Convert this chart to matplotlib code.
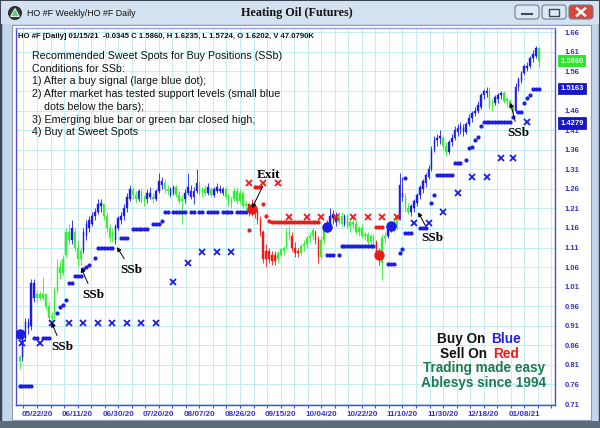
import matplotlib
matplotlib.use("Agg")
import matplotlib.pyplot as plt
from matplotlib.patches import Rectangle, FancyBboxPatch, Circle, Polygon

# ---------------- data ----------------
date_labels = ["05/22/20", "06/11/20", "06/30/20", "07/20/20", "08/07/20", "08/26/20",
               "09/15/20", "10/04/20", "10/22/20", "11/10/20", "11/30/20", "12/18/20", "01/08/21"]
date_label_pos = [6, 20, 34, 48, 62, 76, 90, 104, 118, 132, 146, 160, 174]

opens = [
    0.82, 0.83, 0.88, 0.92, 0.91, 1.02, 0.98, 0.99, 0.98, 0.99,
    0.96, 0.93, 0.94, 1.00, 1.06, 1.045, 1.09, 1.15, 1.13, 1.15,
    1.11, 1.08, 1.10, 1.14, 1.16, 1.17, 1.19, 1.20, 1.215, 1.22,
    1.19, 1.16, 1.14, 1.13, 1.16, 1.18, 1.19, 1.21, 1.235, 1.26,
    1.245, 1.235, 1.255, 1.23, 1.235, 1.25, 1.24, 1.235, 1.255, 1.28,
    1.275, 1.26, 1.245, 1.25, 1.265, 1.245, 1.23, 1.235, 1.25, 1.255,
    1.24, 1.255, 1.27, 1.25, 1.26, 1.25, 1.26, 1.245, 1.255, 1.26,
    1.25, 1.26, 1.24, 1.225, 1.235, 1.255, 1.23, 1.25, 1.215, 1.22,
    1.21, 1.215, 1.20, 1.18, 1.15, 1.08, 1.10, 1.09, 1.075, 1.08,
    1.09, 1.10, 1.11, 1.15, 1.14, 1.11, 1.095, 1.095, 1.115, 1.12,
    1.135, 1.14, 1.15, 1.13, 1.085, 1.13, 1.16, 1.17, 1.185, 1.19,
    1.175, 1.19, 1.17, 1.19, 1.165, 1.175, 1.17, 1.15, 1.16, 1.14,
    1.145, 1.125, 1.14, 1.125, 1.095, 1.07, 1.135, 1.14, 1.16, 1.165,
    1.16, 1.185, 1.25, 1.24, 1.21, 1.20, 1.21, 1.225, 1.245, 1.26,
    1.275, 1.29, 1.31, 1.36, 1.385, 1.39, 1.39, 1.37, 1.355, 1.38,
    1.39, 1.405, 1.41, 1.415, 1.405, 1.425, 1.44, 1.455, 1.46, 1.47,
    1.50, 1.505, 1.51, 1.475, 1.48, 1.49, 1.50, 1.505, 1.485, 1.485,
    1.47, 1.46, 1.52, 1.535, 1.555, 1.57, 1.575, 1.595, 1.60, 1.6202]

highs = [
    0.835, 0.89, 0.93, 0.93, 1.03, 1.03, 1.00, 1.00, 1.035, 0.995,
    0.97, 0.945, 1.01, 1.08, 1.075, 1.09, 1.16, 1.17, 1.18, 1.16,
    1.13, 1.11, 1.16, 1.18, 1.19, 1.20, 1.21, 1.235, 1.235, 1.225,
    1.20, 1.17, 1.16, 1.17, 1.19, 1.20, 1.22, 1.25, 1.27, 1.265,
    1.255, 1.26, 1.26, 1.245, 1.26, 1.265, 1.25, 1.26, 1.30, 1.29,
    1.285, 1.27, 1.265, 1.27, 1.27, 1.255, 1.245, 1.26, 1.30, 1.27,
    1.265, 1.31, 1.28, 1.265, 1.27, 1.275, 1.265, 1.265, 1.275, 1.27,
    1.265, 1.265, 1.25, 1.24, 1.265, 1.265, 1.26, 1.255, 1.23, 1.225,
    1.235, 1.225, 1.21, 1.19, 1.155, 1.12, 1.11, 1.10, 1.10, 1.10,
    1.11, 1.115, 1.16, 1.165, 1.15, 1.125, 1.11, 1.12, 1.13, 1.14,
    1.15, 1.16, 1.155, 1.14, 1.14, 1.165, 1.18, 1.21, 1.205, 1.20,
    1.20, 1.20, 1.195, 1.195, 1.18, 1.19, 1.18, 1.165, 1.17, 1.15,
    1.15, 1.145, 1.145, 1.13, 1.11, 1.145, 1.15, 1.17, 1.175, 1.185,
    1.19, 1.30, 1.29, 1.25, 1.225, 1.22, 1.235, 1.25, 1.27, 1.285,
    1.30, 1.32, 1.37, 1.395, 1.40, 1.41, 1.395, 1.38, 1.385, 1.40,
    1.42, 1.425, 1.43, 1.425, 1.43, 1.45, 1.46, 1.47, 1.485, 1.505,
    1.515, 1.52, 1.52, 1.49, 1.50, 1.505, 1.51, 1.51, 1.495, 1.49,
    1.48, 1.53, 1.545, 1.56, 1.58, 1.585, 1.60, 1.615, 1.625, 1.6235]

lows = [
    0.80, 0.82, 0.87, 0.89, 0.90, 0.97, 0.97, 0.975, 0.975, 0.95,
    0.92, 0.91, 0.93, 0.995, 1.03, 1.04, 1.085, 1.12, 1.12, 1.10,
    1.06, 1.065, 1.095, 1.13, 1.15, 1.165, 1.18, 1.195, 1.20, 1.18,
    1.15, 1.125, 1.125, 1.12, 1.155, 1.17, 1.18, 1.20, 1.23, 1.235,
    1.225, 1.23, 1.225, 1.215, 1.225, 1.235, 1.225, 1.23, 1.25, 1.26,
    1.25, 1.245, 1.24, 1.245, 1.24, 1.22, 1.17, 1.225, 1.245, 1.235,
    1.22, 1.25, 1.245, 1.24, 1.245, 1.245, 1.24, 1.24, 1.25, 1.25,
    1.245, 1.235, 1.215, 1.21, 1.23, 1.22, 1.22, 1.21, 1.205, 1.19,
    1.19, 1.185, 1.17, 1.14, 1.07, 1.06, 1.07, 1.065, 1.065, 1.07,
    1.085, 1.09, 1.105, 1.13, 1.10, 1.085, 1.085, 1.09, 1.10, 1.11,
    1.125, 1.13, 1.12, 1.07, 1.08, 1.12, 1.15, 1.165, 1.17, 1.165,
    1.17, 1.165, 1.165, 1.16, 1.15, 1.16, 1.145, 1.14, 1.135, 1.13,
    1.12, 1.115, 1.12, 1.09, 1.065, 1.028, 1.12, 1.135, 1.15, 1.15,
    1.155, 1.18, 1.23, 1.20, 1.195, 1.19, 1.20, 1.215, 1.235, 1.25,
    1.265, 1.285, 1.305, 1.355, 1.37, 1.375, 1.36, 1.345, 1.35, 1.37,
    1.385, 1.395, 1.40, 1.395, 1.40, 1.42, 1.43, 1.445, 1.455, 1.465,
    1.49, 1.495, 1.465, 1.46, 1.475, 1.48, 1.49, 1.48, 1.47, 1.465,
    1.455, 1.455, 1.51, 1.53, 1.55, 1.56, 1.57, 1.585, 1.595, 1.5724]

closes = [
    0.83, 0.88, 0.92, 0.905, 1.02, 0.98, 0.99, 0.98, 0.99, 0.96,
    0.93, 0.935, 1.00, 1.06, 1.045, 1.08, 1.15, 1.13, 1.16, 1.11,
    1.08, 1.10, 1.15, 1.17, 1.18, 1.19, 1.20, 1.22, 1.225, 1.19,
    1.16, 1.135, 1.15, 1.165, 1.185, 1.19, 1.21, 1.24, 1.26, 1.245,
    1.235, 1.255, 1.23, 1.24, 1.25, 1.24, 1.235, 1.255, 1.28, 1.27,
    1.26, 1.255, 1.26, 1.265, 1.245, 1.23, 1.235, 1.25, 1.265, 1.24,
    1.255, 1.275, 1.25, 1.26, 1.25, 1.265, 1.245, 1.26, 1.265, 1.255,
    1.26, 1.24, 1.225, 1.235, 1.255, 1.23, 1.25, 1.215, 1.22, 1.20,
    1.215, 1.195, 1.18, 1.15, 1.08, 1.10, 1.08, 1.075, 1.09, 1.095,
    1.105, 1.11, 1.15, 1.14, 1.11, 1.095, 1.10, 1.115, 1.12, 1.135,
    1.14, 1.155, 1.13, 1.085, 1.13, 1.16, 1.17, 1.19, 1.195, 1.175,
    1.19, 1.17, 1.19, 1.165, 1.175, 1.17, 1.15, 1.16, 1.14, 1.145,
    1.125, 1.14, 1.125, 1.095, 1.08, 1.135, 1.14, 1.165, 1.165, 1.16,
    1.185, 1.27, 1.24, 1.21, 1.20, 1.215, 1.23, 1.245, 1.265, 1.28,
    1.295, 1.31, 1.36, 1.385, 1.39, 1.395, 1.37, 1.355, 1.38, 1.39,
    1.41, 1.415, 1.42, 1.405, 1.425, 1.44, 1.455, 1.46, 1.475, 1.50,
    1.51, 1.51, 1.47, 1.48, 1.495, 1.50, 1.505, 1.485, 1.49, 1.47,
    1.46, 1.52, 1.54, 1.555, 1.575, 1.575, 1.595, 1.605, 1.62, 1.586]

bar_colors = ("gbbbbbgggg" "ggggggggbg" "ggbbbbbbbg" "gggbbbbbbg" "gbggbbgbbb"
              "ggbbgggbbb" "bbgggbgbbb" "bggggggggr" "rrrrrrrrrg" "ggggrrrggg"
              "ggrrggbbbb" "ggbggggggg" "gggrrggbbg" "gbbggbbbbb" "bbbbbbggbb"
              "bbbbbbbbbb" "bbggbbbggg" "gbbbbbbbbg")

# small blue support dots
sup_idx = [0, 1, 2, 3, 4, 5, 6, 8, 9, 10, 13, 14, 15, 16, 17, 18, 19, 20, 21, 22, 23, 24, 26,
           27, 28, 29, 30, 31, 32, 35, 36, 37, 39, 40, 41, 42, 43, 44, 46, 47, 48, 49,
           50, 51, 53, 54, 55, 56, 57, 59, 60, 62, 63, 65, 66, 67, 68, 70, 71, 72, 73, 75, 76, 77, 78,
           106, 107, 108, 110, 111, 112, 113, 114, 115, 116, 117, 118, 119, 120, 121, 122,
           127, 128, 129, 131, 132, 133, 134, 135, 133, 138, 139, 140, 142, 143,
           144, 145, 146, 147, 148, 149, 150, 151, 152, 154, 155, 156, 157, 158, 159,
           160, 161, 162, 163, 164, 165, 166, 167, 168, 169, 170, 172, 173, 174, 175, 176, 177, 178, 179]
sup_val = [0.755, 0.755, 0.755, 0.755, 0.755, 0.88, 0.88, 0.88, 0.88, 0.88, 0.943, 0.958, 0.962, 0.976,
           1.02, 1.02, 1.038, 1.038, 1.038, 1.055, 1.06, 1.065, 1.083,
           1.11, 1.11, 1.11, 1.11, 1.11, 1.11, 1.135, 1.135, 1.135, 1.158, 1.158, 1.158, 1.158, 1.158, 1.158,
           1.17, 1.17, 1.17, 1.178,
           1.20, 1.20, 1.20, 1.20, 1.20, 1.20, 1.20, 1.20, 1.20, 1.20, 1.20, 1.20, 1.20, 1.20, 1.20,
           1.20, 1.20, 1.20, 1.20, 1.20, 1.20, 1.20, 1.20,
           1.09, 1.09, 1.09, 1.09, 1.115, 1.115, 1.115, 1.115, 1.115, 1.115, 1.115, 1.115, 1.115, 1.115,
           1.115, 1.115,
           1.068, 1.068, 1.068, 1.097, 1.107, 1.147, 1.147, 1.147, 1.288, 1.16, 1.16, 1.16, 1.225, 1.245,
           1.295, 1.295, 1.295, 1.295, 1.295, 1.295, 1.325, 1.325, 1.325, 1.334, 1.365, 1.368, 1.385, 1.393,
           1.42, 1.43, 1.43, 1.43, 1.43, 1.43, 1.43, 1.43, 1.43, 1.43, 1.43, 1.443, 1.456, 1.456, 1.48,
           1.492, 1.50, 1.516, 1.516, 1.516]

# small red dots
red_dot_idx = [79, 81, 82, 83, 84, 85, 86, 87, 88, 89, 90, 91, 92, 93, 94, 95, 96, 97, 98, 99, 100,
               101, 102, 103, 123, 124, 125]
red_dot_val = [1.155, 1.265, 1.265, 1.265, 1.222, 1.19, 1.178, 1.175, 1.175, 1.175, 1.175, 1.175,
               1.175, 1.175, 1.175, 1.175, 1.175, 1.175, 1.175, 1.175, 1.175, 1.175, 1.175, 1.175,
               1.163, 1.163, 1.163]

# blue and red X stops
bx_idx = [1, 7, 11, 17, 22, 27, 32, 37, 42, 47, 53, 58, 63, 68, 73, 136, 141, 146, 151, 156, 161,
          166, 170, 175]
bx_val = [0.865, 0.865, 0.918, 0.918, 0.918, 0.918, 0.918, 0.918, 0.918, 0.918, 1.022, 1.07,
          1.098, 1.098, 1.098, 1.172, 1.172, 1.20, 1.25, 1.29, 1.29, 1.338, 1.338, 1.43]
rx_idx = [79, 84, 89, 93, 99, 104, 109, 115, 120, 125, 130]
rx_val = [1.275, 1.275, 1.275, 1.188, 1.188, 1.188, 1.188, 1.188, 1.188, 1.188, 1.188]

# large signal dots
buy_idx = [0, 106, 128]
buy_val = [0.89, 1.163, 1.165]
sell_idx = [80, 124]
sell_val = [1.208, 1.09]

# right-side price markers
last_close = 1.5860
last_sup = 1.5163
last_stop = 1.4279

header = "HO #F [Daily] 01/15/21  -0.0345 C 1.5860, H 1.6235, L 1.5724, O 1.6202, V 47.0790K"
notes = ["Recommended Sweet Spots for Buy Positions (SSb)",
         "Conditions for SSb:",
         "1) After a buy signal (large blue dot);",
         "2) After market has tested support levels (small blue",
         "    dots below the bars);",
         "3) Emerging blue bar or green bar closed high;",
         "4) Buy at Sweet Spots"]

ann_text = ["SSb", "SSb", "SSb", "SSb", "SSb", "Exit"]
ann_tip = [(11, 0.918), (21.2, 1.058), (33.6, 1.111), (137.4, 1.20), (169.2, 1.48), (80.1, 1.21)]
ann_pos = [(14.6, 0.856), (25.3, 0.989), (38.4, 1.053), (142.2, 1.135), (171.9, 1.403), (85.7, 1.295)]

assert len(opens) == len(highs) == len(lows) == len(closes) == len(bar_colors) == 180
assert len(sup_idx) == len(sup_val) and len(red_dot_idx) == len(red_dot_val)

# ---------------- drawing ----------------
W, H = 600, 428
BLUE = "#1c1ce6"
GREEN = "#33ee33"
RED = "#ee1a1a"
cmap = {"b": BLUE, "g": GREEN, "r": RED}

fig = plt.figure(figsize=(6, 4.28), dpi=100)
fig.patch.set_facecolor("#c3d6eb")


def fx(x):
    return x / W


def fy(y):
    return 1 - y / H


# background chrome in pixel coordinates
bg = fig.add_axes([0, 0, 1, 1], zorder=-5)
bg.set_xlim(0, W)
bg.set_ylim(H, 0)
bg.axis("off")
bg.add_patch(Rectangle((0, 0), W, H, facecolor="#c3d6eb", edgecolor="#3a4656", lw=2.5))
bg.add_patch(Rectangle((1, 1), W - 2, 23, facecolor="#d3e1f0", edgecolor="none"))
bg.add_patch(Rectangle((12, 25), 579, 395, facecolor="white", edgecolor="#8c9cac", lw=0.8))
bg.add_patch(Rectangle((0, 421), W, 7, facecolor="#5d6b7b", edgecolor="none"))
# icon
bg.add_patch(Circle((15, 13), 6.5, facecolor="#2f3a33", edgecolor="#1a1a1a", lw=0.6))
bg.add_patch(Polygon([(15, 8.5), (19.5, 16.5), (10.5, 16.5)], closed=True, facecolor="#5fd07a",
                     edgecolor="white", lw=0.6))
# window buttons
for x0, fc in [(515, "#dde8f3"), (542, "#dde8f3"), (569, "#d9473a")]:
    bg.add_patch(FancyBboxPatch((x0, 5), 24, 14, boxstyle="round,pad=0,rounding_size=3",
                                facecolor=fc, edgecolor="#6f7f92", lw=0.8))
bg.plot([522, 532], [14, 14], color="#3a4a5a", lw=1.5)
bg.add_patch(Rectangle((549, 8.5), 10, 7, facecolor="none", edgecolor="#3a4a5a", lw=1.0))
bg.plot([577, 585], [8.5, 15.5], color="white", lw=1.8)
bg.plot([577, 585], [15.5, 8.5], color="white", lw=1.8)
bg.text(27, 13, "HO #F Weekly/HO #F Daily", fontsize=6.4, family="Liberation Sans",
        va="center", ha="left", color="#111111")
bg.text(297, 13, "Heating Oil (Futures)", fontsize=8.7, family="Liberation Serif",
        fontweight="bold", va="center", ha="center", color="#111111")

# main chart axes
ax = fig.add_axes([fx(16), fy(405), fx(555) - fx(16), fy(28) - fy(405)])
ax.set_facecolor("white")
ax.set_xlim(-1.24, 184.6)
ax.set_ylim(0.7075, 1.671)

FRAME = "#4b4bd6"
for s in ax.spines.values():
    s.set_color(FRAME)
    s.set_linewidth(1.0)
ax.spines["top"].set_color("#9a9ae6")

yt = [round(0.71 + 0.05 * k, 2) for k in range(20)]
ax.set_yticks(yt)
# the 1.51 label sits fully under the 1.5163 marker box, as in the original
ax.set_yticklabels(["" if abs(v - 1.51) < 1e-6 else f"{v:.2f}" for v in yt])
ax.yaxis.tick_right()
ax.tick_params(axis="y", length=0, pad=7, labelsize=5.5, labelcolor="#3434c8")

minor = [6 + 14 * k / 3 for k in range(-1, 40) if -1.2 < 6 + 14 * k / 3 < 184.5]
ax.set_xticks(date_label_pos)
ax.set_xticklabels(date_labels)
ax.set_xticks(minor, minor=True)
ax.tick_params(axis="x", which="both", direction="out", length=2.5, width=0.8, color=FRAME,
               labelsize=5.8, labelcolor="#3434c8", pad=1.5)
for lab in ax.get_yticklabels() + ax.get_xticklabels():
    lab.set_fontweight("bold")
    lab.set_family("Liberation Sans")
ax.grid(True, which="both", axis="x", color="#c4eef2", lw=0.7)
ax.grid(True, which="major", axis="y", color="#c4eef2", lw=0.7)
ax.set_axisbelow(True)

# candles
for i, (o, h, l, c, k) in enumerate(zip(opens, highs, lows, closes, bar_colors)):
    col = cmap[k]
    ax.vlines(i, l, h, color=col, lw=0.6, zorder=3)
    ax.add_patch(Rectangle((i - 0.27, min(o, c)), 0.54, max(abs(c - o), 0.003),
                           facecolor=col, edgecolor=col, lw=0.3, zorder=3))

# dots and stops
ax.plot(sup_idx, sup_val, "o", ms=2.0, color=BLUE, ls="none", zorder=4)
ax.plot(red_dot_idx, red_dot_val, "o", ms=2.0, color=RED, ls="none", zorder=4)
ax.plot(bx_idx, bx_val, "x", ms=4.5, mew=1.3, color=BLUE, ls="none", zorder=4)
ax.plot(rx_idx, rx_val, "x", ms=4.5, mew=1.3, color=RED, ls="none", zorder=4)
ax.plot(buy_idx, buy_val, "o", ms=6.5, color=BLUE, ls="none", zorder=5)
ax.plot(sell_idx, sell_val, "o", ms=6.5, color=RED, ls="none", zorder=5)

# annotations
for t, tip, pos in zip(ann_text, ann_tip, ann_pos):
    ax.annotate(t, xy=tip, xytext=pos, ha="center", va="center", fontsize=9.5,
                fontweight="bold", family="Liberation Serif", color="black", zorder=6,
                arrowprops=dict(arrowstyle="-|>", color="black", lw=0.7, mutation_scale=6,
                                shrinkA=2, shrinkB=0))

# right price markers
ytr = ax.get_yaxis_transform()
for val, fc, tc in [(last_close, "#2ee62e", "#d8ffd0"), (last_sup, "#1414d2", "white"),
                    (last_stop, "#1414d2", "white")]:
    ax.text(1.01, val, f"{val:.4f}", transform=ytr, ha="left", va="center", fontsize=5.5,
            fontweight="bold", family="Liberation Sans", color=tc, clip_on=False, zorder=10,
            bbox=dict(boxstyle="square,pad=0.3", fc=fc, ec="#0a0a90" if fc != "#2ee62e" else "none",
                      lw=0.5))

# texts
fig.text(fx(18), fy(37), header, fontsize=5.6, fontweight="bold", family="Liberation Sans",
         va="center", ha="left", color="#111111")
line_y = [56, 68.7, 81.4, 94.1, 106.8, 119.5, 132.2]
for s, yy in zip(notes, line_y):
    fig.text(fx(32), fy(yy), s, fontsize=7.7, family="Liberation Sans", va="center", ha="left",
             color="#111111")

fig.text(fx(463), fy(339), "Buy On ", fontsize=9.8, fontweight="bold", family="Liberation Sans",
         ha="center", va="center", color="#111111")
fig.text(fx(506), fy(339), "Blue", fontsize=9.8, fontweight="bold", family="Liberation Sans",
         ha="center", va="center", color="#2020ee")
fig.text(fx(465), fy(353.5), "Sell On ", fontsize=9.8, fontweight="bold", family="Liberation Sans",
         ha="center", va="center", color="#111111")
fig.text(fx(506), fy(353.5), "Red", fontsize=9.8, fontweight="bold", family="Liberation Sans",
         ha="center", va="center", color="#ee1a1a")
fig.text(fx(484), fy(368), "Trading made easy", fontsize=9.8, fontweight="bold",
         family="Liberation Sans", ha="center", va="center", color="#1e7a50")
fig.text(fx(484), fy(382.5), "Ablesys since 1994", fontsize=9.8, fontweight="bold",
         family="Liberation Sans", ha="center", va="center", color="#1e7a50")

fig.savefig("out.png", dpi=100, facecolor=fig.get_facecolor())
